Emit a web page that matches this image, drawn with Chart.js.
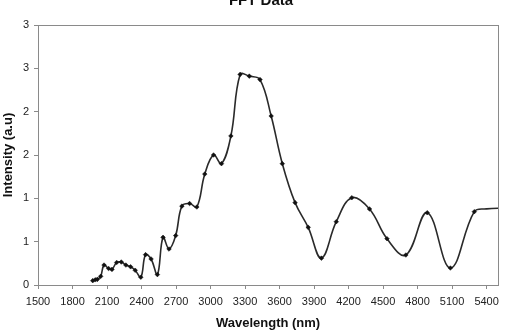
<!DOCTYPE html>
<html>
<head>
<meta charset="utf-8">
<script src="https://cdn.jsdelivr.net/npm/chart.js@4/dist/chart.umd.min.js"></script>
<style>
  html, body { margin: 0; padding: 0; background: #fff; overflow: hidden; }
  #wrap { position: relative; width: 505px; height: 335px; }
</style>
</head>
<body>
<div id="wrap"><canvas id="fftChart"></canvas></div>
<script>
// wavelength (nm) and intensity
var wavelength = [1976, 1998, 2016, 2045, 2074, 2114, 2143, 2184, 2224, 2264, 2305, 2345, 2394,
    2435, 2483, 2538, 2587, 2639, 2697, 2751, 2818, 2881, 2950, 3026, 3095, 3177, 3257, 3337,
    3430, 3527, 3624, 3735, 3849, 3964, 4093, 4228, 4382, 4534, 4698, 4884, 5085, 5293, 5400, 5600];
var intensity = [0.05, 0.06, 0.065, 0.10, 0.23, 0.19, 0.18, 0.26, 0.265, 0.23, 0.21, 0.17, 0.09,
    0.35, 0.30, 0.12, 0.55, 0.415, 0.57, 0.91, 0.94, 0.90, 1.28, 1.50, 1.40, 1.72, 2.43, 2.41,
    2.37, 1.95, 1.40, 0.95, 0.665, 0.31, 0.73, 1.007, 0.877, 0.534, 0.346, 0.834, 0.196, 0.846, 0.878, 0.89];
var xTicks = [1500, 1800, 2100, 2400, 2700, 3000, 3300, 3600, 3900, 4200, 4500, 4800, 5100, 5400];
var yTicks = [0, 0.5, 1, 1.5, 2, 2.5, 3];

var points = wavelength.map(function (w, i) {
    return {x: w, y: intensity[i]};
});

var frameColor = '#8a8a8a';
var textColor = '#222';

// gray box round the plot plus the cut-off title at the top
var framePlugin = {
    id: 'frame',
    afterDraw: function (chart) {
        var a = chart.chartArea, ctx = chart.ctx;
        ctx.save();
        ctx.strokeStyle = frameColor;
        ctx.lineWidth = 1;
        ctx.strokeRect(Math.round(a.left) + 0.5, Math.round(a.top) + 0.5,
            Math.round(a.right - a.left), Math.round(a.bottom - a.top));
        ctx.fillStyle = '#111';
        ctx.font = 'bold 15px "Liberation Sans", Arial, sans-serif';
        ctx.textAlign = 'center';
        ctx.textBaseline = 'alphabetic';
        ctx.fillText('FFT Data', 261, 5);
        ctx.restore();
    }
};

var ctx = document.getElementById('fftChart').getContext('2d');
new Chart(ctx, {
    type: 'line',
    data: {
        datasets: [{
            label: 'FFT Data',
            data: points,
            borderColor: '#2a2a2a',
            borderWidth: 1.6,
            backgroundColor: '#111',
            pointBackgroundColor: '#111',
            pointBorderColor: '#111',
            pointStyle: 'rectRot',
            pointRadius: function (c) {
                return c.raw && c.raw.x > 5300 ? 0 : 2.3;
            },
            pointBorderWidth: 0.5,
            tension: 0.4,
            fill: false
        }]
    },
    options: {
        responsive: true,
        maintainAspectRatio: false,
        animation: false,
        layout: {padding: {top: 25, right: 6, left: 0, bottom: 0}},
        plugins: {
            legend: {display: false},
            tooltip: {enabled: false},
            title: {display: false}
        },
        scales: {
            x: {
                type: 'linear',
                min: 1500,
                max: 5500,
                afterBuildTicks: function (axis) {
                    axis.ticks = xTicks.map(function (v) { return {value: v}; });
                },
                afterFit: function (axis) { axis.height = 50; },
                grid: {drawOnChartArea: false, tickLength: 4, color: frameColor},
                border: {color: frameColor},
                ticks: {
                    color: textColor,
                    padding: 6,
                    maxRotation: 0,
                    autoSkip: false,
                    font: {family: '"Liberation Sans", Arial, sans-serif', size: 11},
                    callback: function (v) { return String(v); }
                },
                title: {
                    display: true,
                    text: 'Wavelength (nm)',
                    color: '#111',
                    padding: {top: 4, bottom: 4},
                    font: {family: '"Liberation Sans", Arial, sans-serif', size: 13, weight: 'bold'}
                }
            },
            y: {
                min: 0,
                max: 3,
                afterBuildTicks: function (axis) {
                    axis.ticks = yTicks.map(function (v) { return {value: v}; });
                },
                afterFit: function (axis) { axis.width = 38; },
                grid: {drawOnChartArea: false, tickLength: 4, color: frameColor},
                border: {color: frameColor},
                ticks: {
                    color: textColor,
                    padding: 5,
                    font: {family: '"Liberation Sans", Arial, sans-serif', size: 11},
                    callback: function (v) { return Math.round(v); }
                },
                title: {
                    display: true,
                    text: 'Intensity (a.u)',
                    color: '#111',
                    padding: {top: 1, bottom: 2},
                    font: {family: '"Liberation Sans", Arial, sans-serif', size: 13, weight: 'bold'}
                }
            }
        }
    },
    plugins: [framePlugin]
});
</script>
</body>
</html>
